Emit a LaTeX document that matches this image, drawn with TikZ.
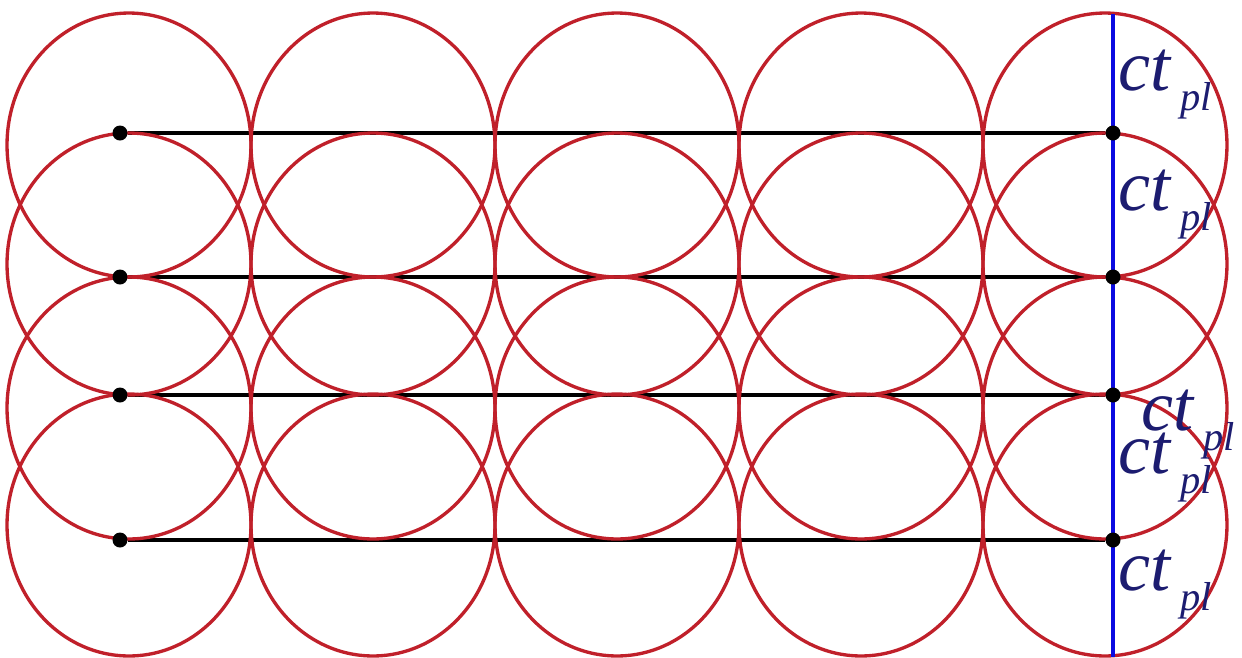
\documentclass[tikz,border=0pt]{standalone}
\usepackage{fontspec}
\newfontfamily\labfont{Liberation Serif Italic}
\usetikzlibrary{backgrounds}
\definecolor{ringred}{RGB}{192,32,42}
\definecolor{labnavy}{RGB}{28,28,112}
\definecolor{wallblue}{RGB}{10,10,225}
\newcommand{\ctpl}{{\labfont\fontsize{41}{41}\selectfont ct}\hspace{0.2cm}\raisebox{-0.4cm}{\labfont\fontsize{23}{23}\selectfont pl}}

\begin{document}
\begin{tikzpicture}[x=0.02cm,y=-0.02cm,
  dot/.style={circle,fill=black,inner sep=0pt,minimum size=0.3cm},
  ring/.style={draw=ringred,line width=1.9pt},
  lab/.style={anchor=base west,inner sep=0pt,text=labnavy}]
\useasboundingbox (0,0) rectangle (1242,657);
% dots at both ends of each path
\foreach \i/\y in {1/133,2/277,3/395,4/540} {
  \node[dot] (L\i) at (120,\y) {};
  \node[dot] (R\i) at (1113,\y) {};
}
\coordinate (wtop) at (1113,14);
\coordinate (wbot) at (1113,657);
\begin{scope}[on background layer]
\foreach \i in {1,...,4} \draw[line width=2pt] (L\i) -- (R\i);
% wave fronts
\foreach \cx in {129,373,617,861,1105}
  \foreach \cy/\ry in {145/2.64cm,264/2.62cm,408/2.62cm,525/2.62cm}
    \draw[ring] (\cx,\cy) ellipse [x radius=2.44cm,y radius=\ry];
\draw[line width=2pt,wallblue] (wtop) -- (wbot);
\end{scope}
% labels
\node[lab] (c1) at (1118,90) {\ctpl};
\node[lab] (c2) at (1118,210) {\ctpl};
\node[lab] (c3) at (1141,430) {\ctpl};
\node[lab] (c4) at (1118,473) {\ctpl};
\node[lab] (c5) at (1118,590) {\ctpl};
\end{tikzpicture}
\end{document}
